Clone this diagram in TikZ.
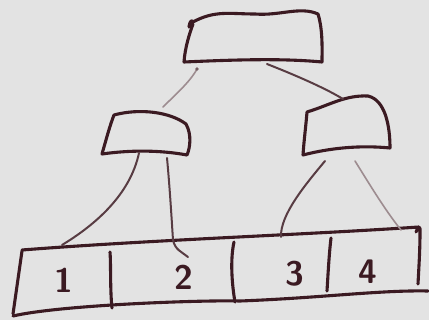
\documentclass[tikz,border=0pt]{standalone}
\begin{document}
\begin{tikzpicture}[x=1pt,y=-1pt,
  ink/.style={draw=inkc,line width=3.1pt,line cap=round,line join=round},
  thin/.style={draw=inkc!85,line width=2pt,line cap=round},
  faint/.style={draw=inkc!50,line width=1.6pt,line cap=round},
  lbl/.style={text=inkc,font=\sffamily\bfseries\fontsize{34}{34}\selectfont,inner sep=0pt}]
\definecolor{inkc}{HTML}{3B1A22}
\definecolor{bgc}{HTML}{E3E3E3}
\fill[bgc] (0,0) rectangle (429,320);
\useasboundingbox (0,0) rectangle (429,320);
% root box
\draw[ink] (189,27) .. controls (190,20) and (192,20) .. (193,22)
  .. controls (215,10) and (230,14) .. (255,14)
  .. controls (280,16) and (300,6) .. (318,14)
  .. controls (323,30) and (322,50) .. (322,62)
  .. controls (280,58) and (230,60) .. (184,62)
  .. controls (185,48) and (189,35) .. (193,24);
% left child
\draw[ink] (114,115) .. controls (140,108) and (170,112) .. (186,124)
  .. controls (192,135) and (190,148) .. (187,155)
  .. controls (160,150) and (130,150) .. (102,154)
  .. controls (106,140) and (110,125) .. (114,115);
% right child
\draw[ink] (307,112) .. controls (330,105) and (345,95) .. (368,96)
  .. controls (385,100) and (390,125) .. (390,148)
  .. controls (360,145) and (330,148) .. (303,155)
  .. controls (304,140) and (306,125) .. (307,112);
% array
\draw[ink] (22,250) .. controls (150,240) and (300,235) .. (419,227);
\draw[ink] (13,316) .. controls (60,305) and (200,300) .. (240,301)
  .. controls (320,298) and (380,290) .. (428,291);
\draw[ink] (22,251) -- (13,314);
\draw[ink] (416,232) .. controls (418,226) and (421,226) .. (420,232)
  .. controls (420,250) and (419,265) .. (418,284);
\draw[ink] (110,252) .. controls (111,265) and (110,290) .. (112,308);
\draw[ink] (234,242) .. controls (230,260) and (232,285) .. (235,302);
\draw[ink] (331,238) .. controls (329,255) and (328,275) .. (327,291);
% labels
\node[lbl] (l1) at (64,280) {1};
\node[lbl] (l2) at (184,277) {2};
\node[lbl] (l3) at (295,274) {3};
\node[lbl] (l4) at (368,272) {4};
% connectors
\coordinate (a1) at (163,107); \coordinate (a2) at (197,69);
\draw[faint] (a1) .. controls (175,95) and (190,82) .. (a2);
\fill[inkc!70] (a2) circle (1.8pt);
\coordinate (b1) at (267,64); \coordinate (b2) at (343,99);
\draw[thin] (b1) .. controls (295,75) and (325,88) .. (b2);
\coordinate (c1) at (139,153); \coordinate (c2) at (62,245);
\draw[thin] (c1) .. controls (130,195) and (95,225) .. (c2);
\coordinate (d1) at (167,158); \coordinate (d2) at (188,257);
\draw[thin] (d1) .. controls (170,190) and (172,225) .. (173,240) .. controls (175,250) and (182,252) .. (d2);
\coordinate (e1) at (325,161); \coordinate (e2) at (281,237);
\draw[thin] (e1) .. controls (305,185) and (280,215) .. (e2);
\coordinate (f1) at (355,161); \coordinate (f2) at (401,230);
\draw[faint] (f1) .. controls (370,185) and (385,210) .. (f2);
\end{tikzpicture}
\end{document}
